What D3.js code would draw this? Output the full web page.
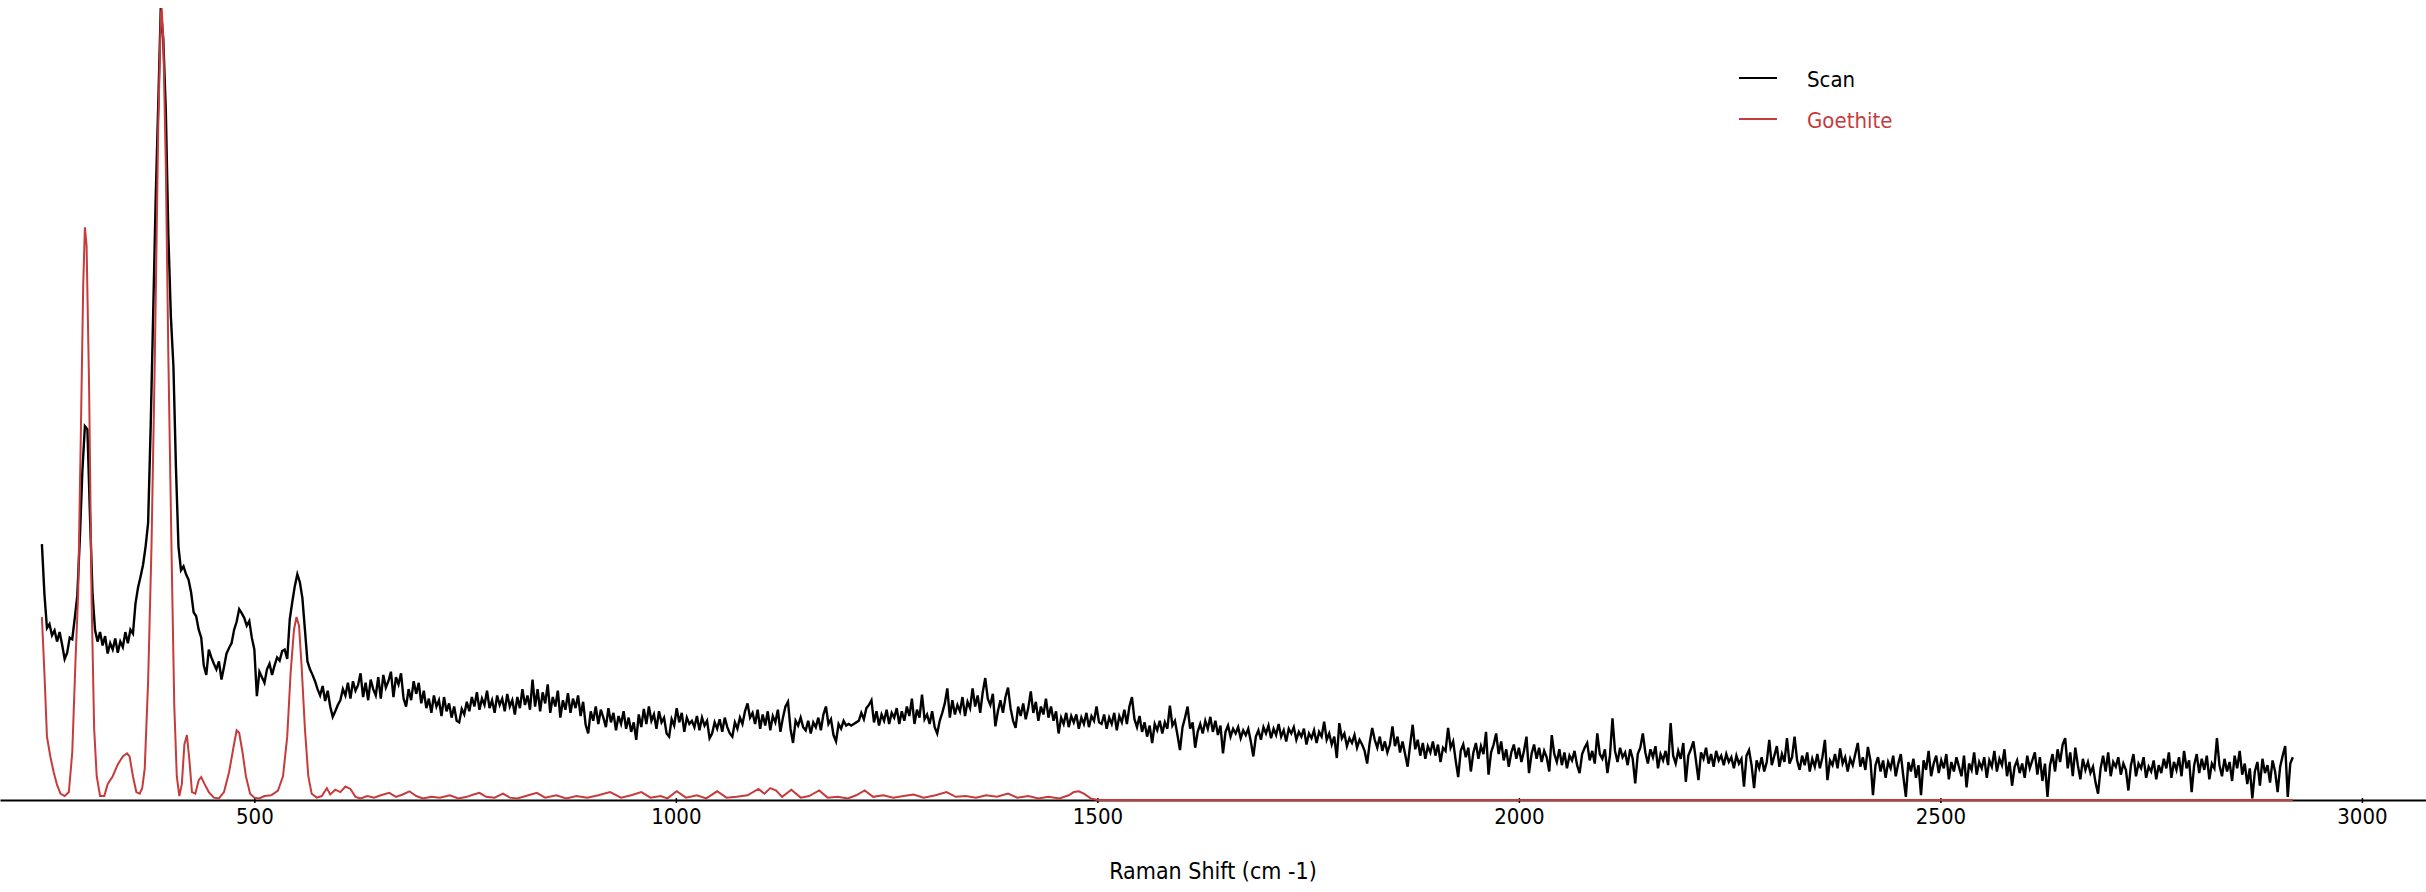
<!DOCTYPE html>
<html>
<head>
<meta charset="utf-8">
<script src="https://cdn.jsdelivr.net/npm/d3@7"></script>
<style>
  html, body { margin: 0; padding: 0; background: #ffffff; }
  svg { display: block; }
  text { font-family: "DejaVu Sans Condensed", "DejaVu Sans", "Noto Sans", sans-serif; font-stretch: condensed; }
</style>
</head>
<body>
<svg id="chart" width="2426" height="892"></svg>
<script>
// ---------------- DATA ----------------
const tickValues = [500, 1000, 1500, 2000, 2500, 3000];
const seriesNames = ["Scan", "Goethite"];
const xLabel = "Raman Shift (cm -1)";

// Scan: sampled every 3 cm-1 starting at 248 cm-1 (relative intensity, peak = 1000)
const scanStart = 248;
const scanStep = 3;
const scanA = [ // 248 - 599
  323,260,217,222,208,214,200,212,196,178,
  186,205,203,230,258,330,415,472,468,360,
  262,215,200,212,195,207,185,198,190,204,
  186,200,193,212,198,215,210,248,268,282,
  297,320,350,470,614,760,878,1000,960,870,
  713,610,548,420,320,290,295,285,278,262,
  237,232,215,205,170,158,190,180,172,165,
  175,152,168,185,192,198,215,225,241,236,
  230,220,226,205,190,131,162,155,148,165,
  172,158,170,180,176,188,190,178,228,250,
  270,285,275,255,215,175,165,158,150,140,
  132,144,125,138,118,105,112,120
];
const scanB = [ // 602 - 1016
  126,140,132,148,128,150,138,145,160,130,
  148,126,152,140,132,155,128,158,142,150,
  162,130,155,146,160,128,118,140,126,150,
  134,148,122,138,116,128,110,132,118,126,
  106,130,112,122,104,118,100,98,115,108,
  124,112,130,118,136,114,128,120,138,116,
  126,110,132,120,128,112,134,118,126,108,
  130,116,140,120,132,114,152,118,140,112,
  136,122,146,110,130,118,138,104,126,114,
  135,110,128,116,132,106,124,95,84,112,
  100,118,96,114,104,92,116,98,110,88,
  106,96,112,90,104,86,98,76,108,92,
  115,96,118,100,108,90,112,98,104,84,
  80,102,94,116,98,110,86,104,96
];
const scanC = [ // 1019 - 1502
  100,92,106,88,104,94,100,78,84,98,
  90,102,86,104,92,84,80,98,90,104,
  96,112,122,104,110,96,114,90,108,94,
  112,88,106,98,114,86,104,118,124,90,
  72,100,94,104,92,88,100,84,98,92,
  104,88,108,118,96,102,82,74,96,90,
  100,94,96,94,96,98,100,110,102,116,
  120,126,98,112,94,108,100,114,96,110,
  104,116,96,112,100,118,106,128,96,114,
  104,133,102,108,96,112,92,84,100,110,
  122,141,104,126,108,120,112,130,106,124,
  116,141,118,132,110,136,154,128,120,134,
  93,112,126,110,130,142,116,100,91,118,
  106,122,102,116,137,110,124,100,118,108,
  128,104,118,100,112,84,104,96,110,92,
  106,98,108,90,104,96,110,92,106,100,
  118,98
];
const scanD = [ // 1505 - 1976
  96,108,90,104,96,110,88,106,98,114,
  96,118,130,102,92,106,86,98,80,94,
  72,96,88,100,84,98,90,119,94,100,
  82,63,92,104,118,90,98,66,86,96,
  84,100,90,105,86,100,82,94,59,86,
  94,80,90,84,92,78,88,82,90,74,
  55,80,88,76,92,84,94,78,90,82,
  96,80,88,74,90,84,92,76,86,80,
  90,70,84,78,88,72,86,80,99,76,
  84,70,80,53,97,78,84,68,78,72,
  82,66,76,70,62,46,72,91,76,66,
  80,62,74,60,70,93,68,80,60,74,
  58,42,70,95,64,76,56,72,52,68,
  60,74,56,70,48,66,62,91,66,74,
  50,29,62,70,54,66,36,60,72,52,
  68,58,86,32,60,70,84,58
];
const scanE = [ // 1979 - 2450
  74,50,64,42,60,70,52,66,48,62,
  80,34,58,70,52,66,48,62,54,36,
  82,58,48,64,44,60,40,56,50,62,
  44,34,58,66,72,50,62,46,84,58,
  52,64,34,56,103,62,48,66,54,60,
  44,64,52,21,58,66,84,60,46,64,
  54,68,40,58,50,62,44,97,56,46,
  62,52,72,23,56,64,74,50,25,60,
  52,66,46,58,42,62,50,56,44,58,
  48,54,40,56,46,52,17,56,63,44,
  15,50,40,54,36,48,76,44,56,68,
  42,58,48,78,46,54,80,50,38,56,
  44,60,36,52,42,58,40,54,76,25,
  50,44,58,40,65,46,54,36,52,44,
  58,72,42,54,38,67,50,6,44,54,
  36,50,28,48,40,56,30,46
];
const scanF = [ // 2453 - 2918
  58,30,4,48,36,52,28,44,6,50,
  38,62,30,46,56,34,50,40,58,26,
  48,36,54,42,30,56,16,46,38,60,
  32,48,40,54,28,50,42,62,36,52,
  44,64,30,48,18,42,50,34,46,28,
  56,40,50,60,32,54,24,46,4,44,
  58,36,64,48,70,78,40,60,30,66,
  44,26,52,38,48,34,42,22,8,40,
  56,36,60,30,48,42,54,32,46,38,
  12,44,58,30,46,40,54,28,42,36,
  50,26,44,34,52,40,60,28,48,38,
  54,30,62,40,50,10,44,58,34,52,
  38,56,26,46,40,78,44,30,52,36,
  48,24,56,40,62,32,46,20,40,2,
  36,48,18,52,34,44,22,50,36,10,
  42,56,68,4,46,54
];

// Goethite reference spectrum
const goethiteShift = [
  248,251,254,258,262,266,270,275,280,284,288,291,294,297,299,301,304,307,310,313,
  317,322,326,332,338,344,349,352,356,360,364,367,370,374,378,382,386,389,390,392,
  395,398,402,405,408,411,414,417,420,423,426,430,434,437,441,446,452,458,464,470,
  475,479,482,486,490,495,500,506,512,520,528,534,539,543,547,550,553,556,560,564,
  568,574,580,586,590,596,602,608,614,620,626,634,642,650,660,668,676,684,692,700,
  710,720,732,742,752,760,767,775,785,795,803,812,822,835,845,858,870,882,895,908,
  922,935,947,959,970,982,990,1001,1012,1025,1036,1049,1060,1072,1085,1098,1105,1112,1119,1126,
  1137,1148,1158,1170,1180,1192,1204,1214,1224,1234,1246,1258,1270,1282,1294,1308,1321,1332,1344,1356,
  1368,1381,1394,1405,1418,1430,1442,1455,1466,1472,1478,1484,1492,1500,2918
];
const goethiteIntensity = [
  231,160,80,55,35,19,8,5,10,60,180,260,450,650,723,700,520,250,90,30,
  5,5,20,30,45,55,59,55,30,10,8,15,40,150,320,560,850,990,1000,960,
  800,560,300,120,30,5,20,70,82,50,10,8,25,29,20,10,3,2,10,35,
  65,88,85,60,30,8,3,2,5,6,12,30,80,160,215,231,220,170,90,30,
  8,3,5,15,7,13,10,17,14,4,2,5,3,6,9,4,7,11,5,2,
  4,3,6,2,4,7,9,4,3,8,3,2,5,9,3,6,2,5,3,6,
  10,3,6,10,3,5,2,11,3,6,2,11,3,4,6,14,8,15,12,4,
  13,3,5,12,3,4,2,6,12,4,6,3,5,7,3,6,10,4,5,3,
  6,4,8,3,5,2,4,2,6,10,11,8,2,0,0
];

// ---------------- BUILD ----------------
const scanIntensity = [].concat(scanA, scanB, scanC, scanD, scanE, scanF);
const scanData = scanIntensity.map((v, i) => ({ x: scanStart + i * scanStep, y: v }));
const goethiteData = goethiteShift.map((s, i) => ({ x: s, y: goethiteIntensity[i] }));

const W = 2426, H = 892;
const svg = d3.select("#chart");
svg.append("rect").attr("width", W).attr("height", H).attr("fill", "#ffffff");

const x = d3.scaleLinear().domain([198.3, 3076]).range([0, W]);
const y = d3.scaleLinear().domain([0, 1000]).range([800, 8]);

const colors = { Scan: "#000000", Goethite: "#c63b3b" };

// Axis
const axis = d3.axisBottom(x).tickValues(tickValues).tickSizeInner(3).tickSizeOuter(0).tickFormat(d3.format("d"));
const gAxis = svg.append("g").attr("transform", "translate(0,800)").call(axis);
gAxis.select(".domain").attr("stroke", "#000").attr("stroke-width", 2);
gAxis.selectAll(".tick line").attr("stroke", "#000").attr("stroke-width", 1.5).attr("y1", -2);
gAxis.selectAll(".tick text")
  .attr("y", 24).attr("dy", null)
  .attr("fill", "#000")
  .style("font-size", "22px");

// Lines
const line = d3.line().x(d => x(d.x)).y(d => y(d.y));
svg.append("path").datum(scanData)
  .attr("d", line).attr("fill", "none")
  .attr("stroke", colors.Scan).attr("stroke-width", 2.4).attr("stroke-linejoin", "miter");
svg.append("path").datum(goethiteData)
  .attr("d", line).attr("fill", "none")
  .attr("stroke", colors.Goethite).attr("stroke-width", 2);

// X label
svg.append("text")
  .attr("x", 1213).attr("y", 879)
  .attr("text-anchor", "middle")
  .style("font-size", "23px")
  .attr("fill", "#000")
  .text(xLabel);

// Legend
const legend = svg.append("g");
seriesNames.forEach((name, i) => {
  const ly = 78 + i * 41;
  legend.append("line")
    .attr("x1", 1739).attr("x2", 1777).attr("y1", ly).attr("y2", ly)
    .attr("stroke", colors[name]).attr("stroke-width", 2);
  legend.append("text")
    .attr("x", 1807).attr("y", ly + 9)
    .style("font-size", "22px")
    .attr("fill", colors[name])
    .text(name);
});
</script>
</body>
</html>
